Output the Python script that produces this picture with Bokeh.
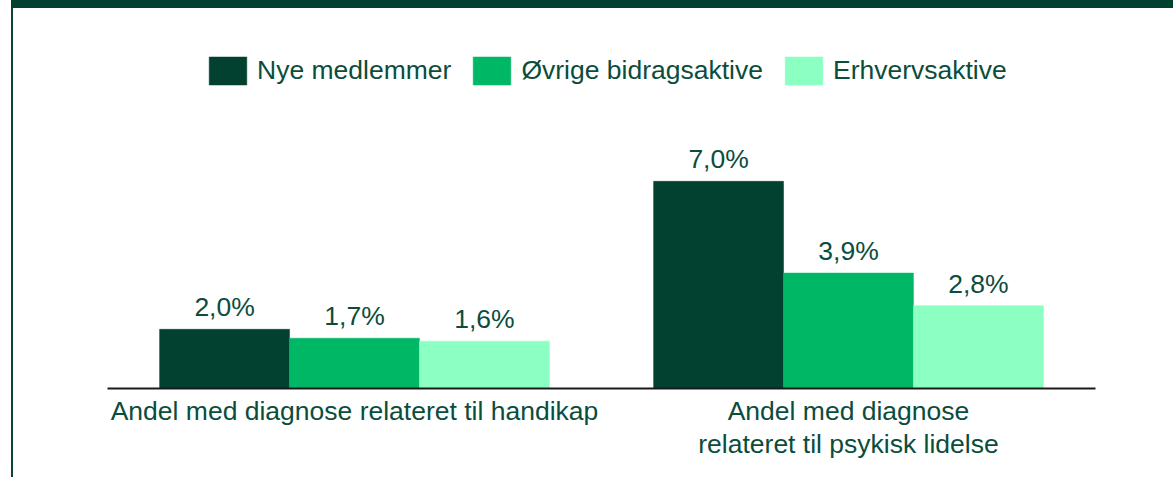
from bokeh.plotting import figure
from bokeh.models import (Range1d, FixedTicker, Legend, LegendItem, ColumnDataSource, Div)
from bokeh.layouts import column, row
from bokeh.core.properties import value
from bokeh.embed import file_html
from bokeh.resources import INLINE

# ---- data ----
categories = ["Andel med diagnose relateret til handikap",
              "Andel med diagnose\nrelateret til psykisk lidelse"]
series = ["Nye medlemmer", "Øvrige bidragsaktive", "Erhvervsaktive"]
nye_medlemmer = [2.0, 7.0]
ovrige_bidragsaktive = [1.7, 3.9]
erhvervsaktive = [1.6, 2.8]
colors = ["#024030", "#00b766", "#8cffc3"]

values_by_series = [nye_medlemmer, ovrige_bidragsaktive, erhvervsaktive]

FONT = "Liberation Sans"
TXT = "#0b4d3c"
FS = "26.5px"

W, H = 1160, 469
p = figure(width=W, height=H, output_backend="svg", toolbar_location=None,
           x_range=Range1d(0, len(categories)), y_range=Range1d(0, 12.84),
           min_border_left=94, min_border_right=78, min_border_top=0,
           min_border_bottom=89, margin=0)
p.outline_line_color = None
p.xgrid.visible = False
p.ygrid.visible = False
p.yaxis.visible = False
p.background_fill_color = "white"
p.border_fill_color = "white"

bar_w = 0.263
offsets = [-bar_w, 0.0, bar_w]
items = []
for s, vals, off, col in zip(series, values_by_series, offsets, colors):
    xs = [i + 0.5 + off for i in range(len(categories))]
    labels = [f"{v:.1f}".replace(".", ",") + "%" for v in vals]
    src = ColumnDataSource(dict(x=xs, top=vals, label=labels))
    r = p.vbar(x="x", top="top", width=bar_w, bottom=0, source=src,
               fill_color=col, line_color=col, line_width=0.5)
    p.text(x="x", y="top", text="label", source=src, text_align="center",
           text_baseline="alphabetic", y_offset=-22,
           text_font=value(FONT), text_font_size=FS, text_color=TXT)
    items.append(LegendItem(label=s, renderers=[r]))

# x axis
ax = p.xaxis[0]
ax.ticker = FixedTicker(ticks=[i + 0.5 for i in range(len(categories))])
ax.major_label_overrides = {i + 0.5: c for i, c in enumerate(categories)}
ax.major_tick_line_color = None
ax.minor_tick_line_color = None
ax.axis_line_color = "#1a1a1a"
ax.axis_line_width = 2
ax.major_label_text_font = FONT
ax.major_label_text_font_size = FS
ax.major_label_text_color = TXT
ax.major_label_text_line_height = 1.1
ax.major_label_standoff = 1

legend = Legend(items=items, orientation="horizontal", location=(97, 300),
                glyph_width=47, glyph_height=35, label_standoff=6, spacing=17,
                padding=0, margin=0, border_line_color=None,
                background_fill_alpha=0,
                label_text_font=FONT, label_text_font_size=FS,
                label_text_color=TXT)
p.add_layout(legend)

# decorative frame: top bar + left rule
top_bar = Div(text="", width=1162, height=8, margin=(0, 0, 0, 11),
              styles={"background-color": "#024030"})
left_rule = Div(text="", width=2, height=H, margin=0,
                styles={"background-color": "#0b4434"})
left_pad = Div(text="", width=11, height=H, margin=0)
layout = column(top_bar, row(left_pad, left_rule, p, spacing=0, margin=0),
                spacing=0, margin=0)

open("out.html", "w").write(file_html(layout, INLINE))
